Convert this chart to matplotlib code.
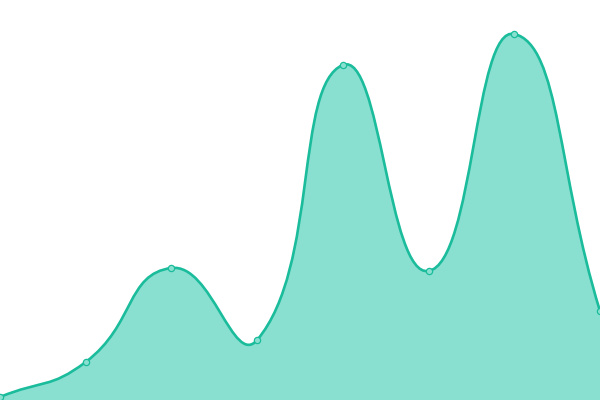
import matplotlib
matplotlib.use("Agg")
import matplotlib.pyplot as plt
import numpy as np
from matplotlib.path import Path
from matplotlib.patches import PathPatch

# values (bottom = 0, top = 400)
xs = [0, 1, 2, 3, 4, 5, 6, 7]
vals = [3, 38, 132, 60, 335, 129, 366, 89]

line_col = "#1abc9c"
fill_col = "#8ae0d0"


def smooth_path(x, y, smooth=0.5):
    # bezier control points, same scheme as a "smooth" line chart
    pts = np.column_stack([x, y]).astype(float)
    n = len(pts)
    cps = []
    for i in range(n):
        prev = pts[max(i - 1, 0)]
        nxt = pts[min(i + 1, n - 1)]
        cur = pts[i]
        v = (nxt - prev) * smooth
        d0 = np.hypot(*(cur - prev))
        d1 = np.hypot(*(nxt - cur))
        s = d0 + d1
        if s == 0:
            cps.append((cur, cur))
            continue
        cps.append((cur - v * d0 / s, cur + v * d1 / s))
    verts = [pts[0]]
    codes = [Path.MOVETO]
    for i in range(n - 1):
        verts += [cps[i][1], cps[i + 1][0], pts[i + 1]]
        codes += [Path.CURVE4] * 3
    return verts, codes


fig = plt.figure(figsize=(6, 4), dpi=100)
ax = fig.add_axes([0, 0, 1, 1])
ax.set_xlim(0, 7)
ax.set_ylim(0, 400)
ax.axis("off")

# work in pixel-like units so the curve shape matches the screen
sx = 600 / 7.0
px = [x * sx for x in xs]
verts, codes = smooth_path(px, vals)
verts = [(v[0] / sx, v[1]) for v in verts]

fill_verts = verts + [(xs[-1], 0), (xs[0], 0), verts[0]]
fill_codes = codes + [Path.LINETO, Path.LINETO, Path.CLOSEPOLY]
ax.add_patch(PathPatch(Path(fill_verts, fill_codes), facecolor=fill_col,
                       edgecolor="none"))
ax.add_patch(PathPatch(Path(verts, codes), facecolor="none",
                       edgecolor=line_col, lw=1.9))
ax.plot(xs, vals, "o", ms=4.5, mfc=fill_col, mec=line_col, mew=0.9,
        clip_on=False, zorder=5)

fig.savefig("out.png", dpi=100)
